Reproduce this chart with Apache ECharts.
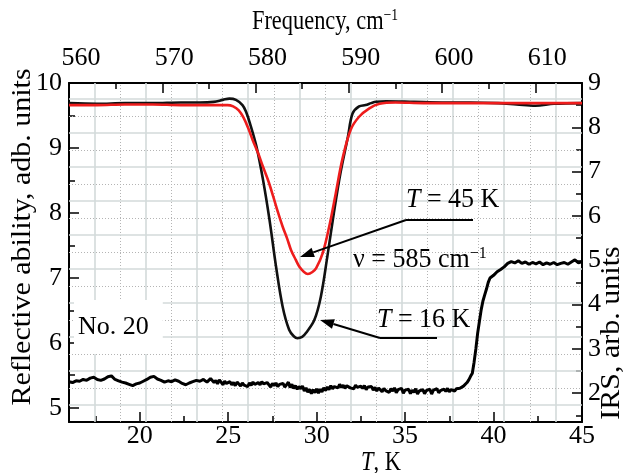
<!DOCTYPE html>
<html><head><meta charset="utf-8">
<script src="https://cdn.jsdelivr.net/npm/echarts@6/dist/echarts.min.js"></script>
<style>html,body{margin:0;padding:0;background:#fff}#c{width:632px;height:473px}</style>
</head><body><div id="c"></div><script>
// ---- data ----
const freq16 = [560, 563, 566, 569, 572, 574, 575.5, 576.5, 577.2, 577.9, 578.6, 579.0, 579.4, 580.1, 580.8, 581.5, 582.2, 582.9, 583.6, 584.1, 584.5, 585.0, 585.4, 586.3, 587.0, 587.7, 588.4, 589.1, 589.9, 590.4, 591.1, 591.8, 592.4, 592.9, 594, 597, 600, 603, 606, 608, 610, 612, 615];
const refl16 = [9.69, 9.68, 9.69, 9.69, 9.70, 9.70, 9.71, 9.74, 9.76, 9.74, 9.66, 9.55, 9.38, 9.02, 8.51, 7.89, 7.17, 6.56, 6.20, 6.10, 6.07, 6.09, 6.15, 6.35, 6.71, 7.33, 8.00, 8.61, 9.17, 9.53, 9.64, 9.66, 9.69, 9.71, 9.72, 9.71, 9.70, 9.70, 9.69, 9.67, 9.65, 9.68, 9.69];
const freq45 = [560, 563, 566, 569, 572, 575, 577, 577.6, 578.2, 578.7, 579.2, 579.7, 580.3, 580.8, 581.4, 581.9, 582.4, 582.9, 583.4, 583.8, 584.3, 584.7, 585.2, 585.6, 586.1, 586.5, 587.2, 587.9, 588.6, 589.3, 590.2, 591.1, 592.2, 593.3, 595, 598, 602, 606, 610, 615];
const refl45 = [9.66, 9.66, 9.67, 9.67, 9.66, 9.66, 9.66, 9.64, 9.58, 9.47, 9.31, 9.12, 8.91, 8.71, 8.48, 8.25, 8.01, 7.79, 7.60, 7.43, 7.28, 7.17, 7.09, 7.06, 7.09, 7.15, 7.38, 7.79, 8.30, 8.82, 9.28, 9.48, 9.61, 9.68, 9.70, 9.69, 9.69, 9.69, 9.69, 9.69];
const tempK = [
 16.0,16.2,16.4,16.6,16.8,17.0,17.2,17.4,17.6,17.8,18.0,18.2,18.4,18.6,18.8,19.0,19.2,19.4,19.6,19.8,
 20.0,20.2,20.4,20.6,20.8,21.0,21.2,21.4,21.6,21.8,22.0,22.2,22.4,22.6,22.8,23.0,23.2,23.4,23.6,23.8,24.0,
 24.1,24.2,24.3,24.4,24.5,24.6,24.7,24.8,24.9,25.0,
 25.1,25.2,25.3,25.4,25.5,25.6,25.7,25.8,25.9,26.0,
 26.1,26.2,26.3,26.4,26.5,26.6,26.7,26.8,26.9,27.0,
 27.1,27.2,27.3,27.4,27.5,27.6,27.7,27.8,27.9,28.0,
 28.1,28.2,28.3,28.4,28.5,28.6,28.7,28.8,28.9,29.0,
 29.1,29.2,29.3,29.4,29.5,29.6,29.7,29.8,29.9,30.0,
 30.1,30.2,30.3,30.4,30.5,30.6,30.7,30.8,30.9,31.0,
 31.1,31.2,31.3,31.4,31.5,31.6,31.7,31.8,31.9,32.0,
 32.1,32.2,32.3,32.4,32.5,32.6,32.7,32.8,32.9,33.0,
 33.1,33.2,33.3,33.4,33.5,33.6,33.7,33.8,33.9,34.0,
 34.1,34.2,34.3,34.4,34.5,34.6,34.7,34.8,34.9,35.0,
 35.1,35.2,35.3,35.4,35.5,35.6,35.7,35.8,35.9,36.0,
 36.1,36.2,36.3,36.4,36.5,36.6,36.7,36.8,36.9,37.0,
 37.1,37.2,37.3,37.4,37.5,37.6,37.7,37.8,37.9,38.0,
 38.1,38.2,38.3,38.4,
 38.5,38.6,38.7,38.8,38.9,39.0,39.1,39.2,39.3,39.4,39.5,39.6,39.7,39.8,40.0,40.2,40.4,40.6,40.8,41.0,
 41.2,41.4,41.6,41.8,42.0,42.2,42.4,42.6,42.8,43.0,43.2,43.4,43.6,43.8,44.0,44.2,44.4,44.6,44.8,45.0];
const irs = [
 2.26,2.24,2.28,2.27,2.31,2.29,2.34,2.36,2.31,2.29,2.32,2.37,2.39,2.31,2.28,2.25,2.23,2.20,2.17,2.21,
 2.23,2.27,2.31,2.36,2.38,2.32,2.29,2.25,2.28,2.26,2.30,2.27,2.22,2.19,2.23,2.26,2.29,2.27,2.31,2.25,2.33,
 2.31,2.24,2.29,2.21,2.30,2.25,2.19,2.27,2.22,2.18,
 2.26,2.19,2.24,2.17,2.25,2.21,2.16,2.23,2.18,2.22,
 2.15,2.23,2.18,2.25,2.20,2.16,2.24,2.19,2.26,2.21,
 2.17,2.24,2.19,2.14,2.22,2.17,2.23,2.15,2.20,2.16,
 2.22,2.14,2.19,2.25,2.13,2.20,2.11,2.17,2.09,2.15,
 2.10,2.16,2.05,2.12,2.02,2.09,1.99,2.08,2.01,2.10,
 2.00,2.09,2.03,2.12,2.06,2.14,2.08,2.17,2.10,2.15,
 2.19,2.12,2.20,2.13,2.18,2.11,2.17,2.21,2.12,2.16,
 2.10,2.18,2.13,2.09,2.16,2.11,2.17,2.08,2.14,2.10,
 2.15,2.07,2.13,2.05,2.12,2.08,2.03,2.11,2.06,2.09,
 2.02,2.10,2.05,2.12,2.01,2.08,2.04,2.11,2.00,2.07,
 2.03,2.09,1.99,2.07,2.02,2.10,1.98,2.05,2.01,2.08,
 1.99,2.06,2.02,2.09,1.98,2.07,2.03,2.10,2.01,2.06,
 2.02,2.09,2.04,2.11,2.03,2.08,2.12,2.05,2.10,2.07,
 2.11,2.08,2.16,2.20,
 2.24,2.30,2.38,2.45,2.70,3.00,3.35,3.62,3.88,4.08,4.22,4.35,4.50,4.60,4.66,4.74,4.79,4.85,4.93,4.97,
 4.94,4.99,4.93,4.96,4.91,4.95,4.92,4.96,4.90,4.94,4.91,4.95,4.90,4.93,4.95,4.91,4.96,5.01,4.94,4.97];
const tTicks = [20, 25, 30, 35, 40, 45];
const tMinor = [17.5, 22.5, 27.5, 32.5, 37.5, 42.5];
const fTicks = [560, 570, 580, 590, 600, 610];
const fMinor = [565, 575, 585, 595, 605, 615];
const leftTicks = [5, 6, 7, 8, 9, 10];
const leftMinor = [5.5, 6.5, 7.5, 8.5, 9.5];
const rightTicks = [2, 3, 4, 5, 6, 7, 8, 9];
const rightMinor = [1.5, 2.5, 3.5, 4.5, 5.5, 6.5, 7.5, 8.5];

// ---- chart ----
const FONT = '"Liberation Serif","Times New Roman",serif';
const FS = 26;
const G = {left: 69, right: 50, top: 83, bottom: 51};
const PW = 632 - G.left - G.right, PH = 473 - G.top - G.bottom;
const lab = {color: '#000', fontFamily: FONT, fontSize: FS};
function mainAxis(pos, min, max, ticks, margin, padding) {
  return {type: 'value', position: pos, min: min, max: max,
    axisLine: {show: true, onZero: false, lineStyle: {color: '#000', width: 2}},
    axisTick: {show: true, inside: true, length: 10, customValues: ticks, lineStyle: {color: '#000', width: 1.5}},
    axisLabel: Object.assign({show: true, customValues: ticks, margin: margin, padding: padding || 0}, lab),
    splitLine: {show: false}};
}
function minorAxis(pos, min, max, ticks) {
  return {type: 'value', position: pos, min: min, max: max,
    axisLine: {show: false, onZero: false},
    axisTick: {show: true, inside: true, length: 6, customValues: ticks, lineStyle: {color: '#000', width: 1.5}},
    axisLabel: {show: false}, splitLine: {show: false}};
}
function pxAxis(pos, max) {
  return {type: 'value', position: pos, min: 0, max: max, show: false, splitLine: {show: false}};
}
const solidGrid = {color: '#d3dada', width: 1.6, type: 'solid'};
const dotGrid = {color: '#b4b4b4', width: 1, type: [1, 2]};
const gridMarks = [];
for (let k = 1; k < 20; k++) gridMarks.push({xAxis: 25.6 * k, lineStyle: k % 2 ? solidGrid : dotGrid});
for (let k = 1; k < 20; k++) gridMarks.push({yAxis: 17 * k, lineStyle: k % 2 ? solidGrid : dotGrid});

function arrowEls(x1, y1, x2, y2) {
  const a = Math.atan2(y2 - y1, x2 - x1), L = 14, W = 5;
  const bx = x2 - L * Math.cos(a), by = y2 - L * Math.sin(a);
  return [
    {type: 'polyline', shape: {points: [[x1, y1], [bx, by]]}, style: {stroke: '#000', lineWidth: 2, fill: null}, z: 50},
    {type: 'polygon', shape: {points: [[x2, y2], [bx + W * Math.sin(a), by - W * Math.cos(a)], [bx - W * Math.sin(a), by + W * Math.cos(a)]]}, style: {fill: '#000'}, z: 50}
  ];
}
function mkRich(fs) {
  return {i: {fontStyle: 'italic', fontFamily: FONT, fontSize: fs, fill: '#000'}, n: {fontFamily: FONT, fontSize: fs, fill: '#000'},
    s: {fontFamily: FONT, fontSize: Math.round(fs * 0.62), fill: '#000', padding: [0, 0, Math.round(fs * 0.46), 0]}};
}
function txt(x, y, text, align, fs, extra) {
  return Object.assign({type: 'text', x: x, y: y, z: 60,
    style: {text: text, rich: mkRich(fs), fill: '#000', fontFamily: FONT, fontSize: fs,
      align: align, verticalAlign: 'middle', textAlign: align, textVerticalAlign: 'middle'}}, extra || {});
}

const chart = echarts.init(document.getElementById('c'), null, {renderer: 'canvas', width: 632, height: 473});
const graphics = [].concat(
  [txt(325, 22, '{n|Frequency, cm}{s|−1}', 'center', 28, {scaleX: 0.8})],
  [txt(381, 463, '{i|T}{n|, K}', 'center', 28, {scaleX: 0.8})],
  [{type: 'text', x: 23, y: 237, rotation: Math.PI / 2, scaleY: 0.9, z: 60, style: {text: 'Reflective ability, adb. units', fill: '#000', fontFamily: FONT, fontSize: 30, align: 'center', verticalAlign: 'middle', textAlign: 'center', textVerticalAlign: 'middle'}}],
  [{type: 'text', x: 612, y: 333, rotation: Math.PI / 2, scaleY: 0.9, z: 60, style: {text: 'IRS, arb. units', fill: '#000', fontFamily: FONT, fontSize: 30, align: 'center', verticalAlign: 'middle', textAlign: 'center', textVerticalAlign: 'middle'}}],
  [txt(406, 200, '{i|T}{n| = 45 K}', 'left', FS, {scaleY: 1.05})],
  [txt(353, 260, '{n|ν = 585 cm}{s|−1}', 'left', FS, {scaleY: 1.05})],
  [txt(377, 320, '{i|T}{n| = 16 K}', 'left', FS, {scaleY: 1.05})],
  [{type: 'text', x: 74, y: 327, z: 40, style: {text: 'No. 20', fill: '#000', fontFamily: FONT, fontSize: FS, align: 'left', verticalAlign: 'middle', textAlign: 'left', textVerticalAlign: 'middle', backgroundColor: '#fff', padding: [14, 14, 14, 4]}}],
  [{type: 'polyline', shape: {points: [[406, 220], [473, 220]]}, style: {stroke: '#000', lineWidth: 2, fill: null}, z: 50}],
  arrowEls(406, 220, 300, 257),
  [{type: 'polyline', shape: {points: [[380, 338], [437, 338]]}, style: {stroke: '#000', lineWidth: 2, fill: null}, z: 50}],
  arrowEls(380, 338, 320, 320)
);

chart.setOption({
  animation: false,
  backgroundColor: '#fff',
  grid: {left: G.left, right: G.right, top: G.top, bottom: G.bottom, containLabel: false},
  xAxis: [
    mainAxis('bottom', 16, 45, tTicks, 1),
    mainAxis('top', 560, 615, fTicks, 12, [0, 0, 0, 24]),
    minorAxis('bottom', 16, 45, tMinor),
    minorAxis('top', 560, 615, fMinor),
    pxAxis('bottom', PW)
  ],
  yAxis: [
    mainAxis('left', 4.78, 10, leftTicks, 7),
    mainAxis('right', 1.35, 9, rightTicks, 6),
    minorAxis('left', 4.78, 10, leftMinor),
    minorAxis('right', 1.35, 9, rightMinor),
    pxAxis('left', PH)
  ],
  series: [
    {type: 'line', xAxisIndex: 4, yAxisIndex: 4, data: [[0, 0]], showSymbol: false, symbol: 'none', lineStyle: {opacity: 0}, silent: true, z: 0,
     markLine: {silent: true, symbol: ['none', 'none'], label: {show: false}, animation: false, data: gridMarks}},
    {name: 'IRS', type: 'line', xAxisIndex: 0, yAxisIndex: 1, data: tempK.map((t, i) => [t, irs[i]]), showSymbol: false, symbol: 'none',
     lineStyle: {color: '#000', width: 3}, z: 5},
    {name: 'T = 16 K', type: 'line', xAxisIndex: 1, yAxisIndex: 0, data: freq16.map((f, i) => [f, refl16[i]]), smooth: 0.35, showSymbol: false, symbol: 'none',
     lineStyle: {color: '#111', width: 2.6}, z: 6},
    {name: 'T = 45 K', type: 'line', xAxisIndex: 1, yAxisIndex: 0, data: freq45.map((f, i) => [f, refl45[i]]), smooth: 0.35, showSymbol: false, symbol: 'none',
     lineStyle: {color: '#ee1c1c', width: 2.6}, z: 7}
  ],
  graphic: {elements: graphics}
});
</script></body></html>
